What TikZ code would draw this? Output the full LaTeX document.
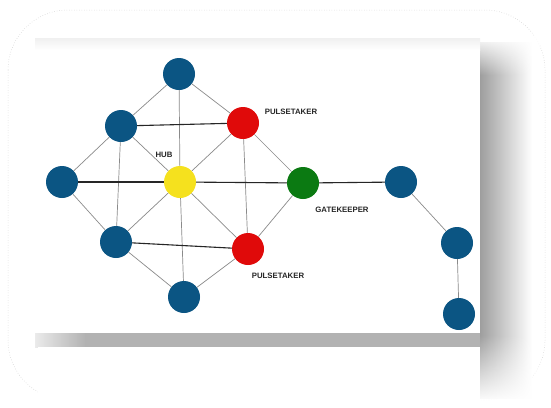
\documentclass[tikz,border=0pt]{standalone}
\usepackage{fontspec}
\newfontfamily\labfont{Liberation Sans}
\usetikzlibrary{fadings}
\definecolor{nodeblue}{HTML}{0B5583}
\definecolor{nodered}{HTML}{E00A0A}
\definecolor{nodeyellow}{HTML}{F5E11E}
\definecolor{nodegreen}{HTML}{0B7A12}
\definecolor{thinline}{HTML}{8A8A8A}
\tikzset{
  dot/.style={circle, minimum size=32pt, inner sep=0pt, draw=none},
  bluedot/.style={dot, fill=nodeblue},
  reddot/.style={dot, fill=nodered},
  yellowdot/.style={dot, fill=nodeyellow},
  greendot/.style={dot, fill=nodegreen},
  thin edge/.style={draw=thinline, line width=0.7pt},
  thick edge/.style={draw=black!85, line width=1.1pt},
  lab/.style={font=\labfont\bfseries\fontsize{7.8}{9}\selectfont, inner sep=0pt, text=black!85}
}
\begin{document}
\begin{tikzpicture}[x=1pt,y=-1pt]
\useasboundingbox (0,0) rectangle (551,407);
\fill[white] (0,0) rectangle (551,407);
% outer rounded frame
\draw[black!22, line width=0.5pt, dotted, rounded corners=60pt] (8,10) rectangle (545,400);
% right shadow
\shade[left color=black!38, right color=white] (480,42) rectangle (532,398);
\fill[white, path fading=south] (478,36) rectangle (540,75);
\fill[white, path fading=north] (478,335) rectangle (540,402);
% bottom shadow band
\fill[black!30] (85,333) rectangle (480,347);
\shade[left color=black!8, right color=black!30] (35,333) rectangle (85,347);
% main panel
\fill[white] (35,38) rectangle (480,333);
\fill[white] (38,347) rectangle (480,407);
\shade[top color=black!6, bottom color=white] (35,38) rectangle (480,50);

% nodes
\node[bluedot] (top) at (179,74) {};
\node[bluedot] (ul) at (121,126) {};
\node[reddot] (pt1) at (243,123) {};
\node[bluedot] (left) at (62,182) {};
\node[yellowdot] (hub) at (180,182) {};
\node[greendot] (gk) at (303,183) {};
\node[bluedot] (ll) at (116,242) {};
\node[reddot] (pt2) at (248,249) {};
\node[bluedot] (bot) at (184,297) {};
\node[bluedot] (r1) at (401,182) {};
\node[bluedot] (r2) at (457,243) {};
\node[bluedot] (r3) at (459,314) {};

% edges
\draw[thin edge] (top) -- (ul);
\draw[thin edge] (top) -- (pt1);
\draw[thin edge] (top) -- (hub);
\draw[thin edge] (ul) -- (left);
\draw[thin edge] (ul) -- (ll);
\draw[thin edge] (ul) -- (hub);
\draw[thin edge] (left) -- (ll);
\draw[thin edge] (hub) -- (pt1);
\draw[thin edge] (hub) -- (ll);
\draw[thin edge] (hub) -- (pt2);
\draw[thin edge] (hub) -- (bot);
\draw[thin edge] (pt1) -- (gk);
\draw[thin edge] (pt1) -- (pt2);
\draw[thin edge] (ll) -- (bot);
\draw[thin edge] (pt2) -- (gk);
\draw[thin edge] (pt2) -- (bot);
\draw[thin edge] (r1) -- (r2);
\draw[thin edge] (r2) -- (r3);
\draw[thick edge] (ul) -- (pt1);
\draw[thick edge] (left) -- (hub);
\draw[thick edge] (hub) -- (gk);
\draw[thick edge] (ll) -- (pt2);
\draw[thick edge] (gk) -- (r1);

% labels
\node[lab] (l1) at (291,112) {PULSETAKER};
\node[lab] (l2) at (164,155) {HUB};
\node[lab] (l3) at (342,210) {GATEKEEPER};
\node[lab] (l4) at (278,276) {PULSETAKER};
\end{tikzpicture}
\end{document}
